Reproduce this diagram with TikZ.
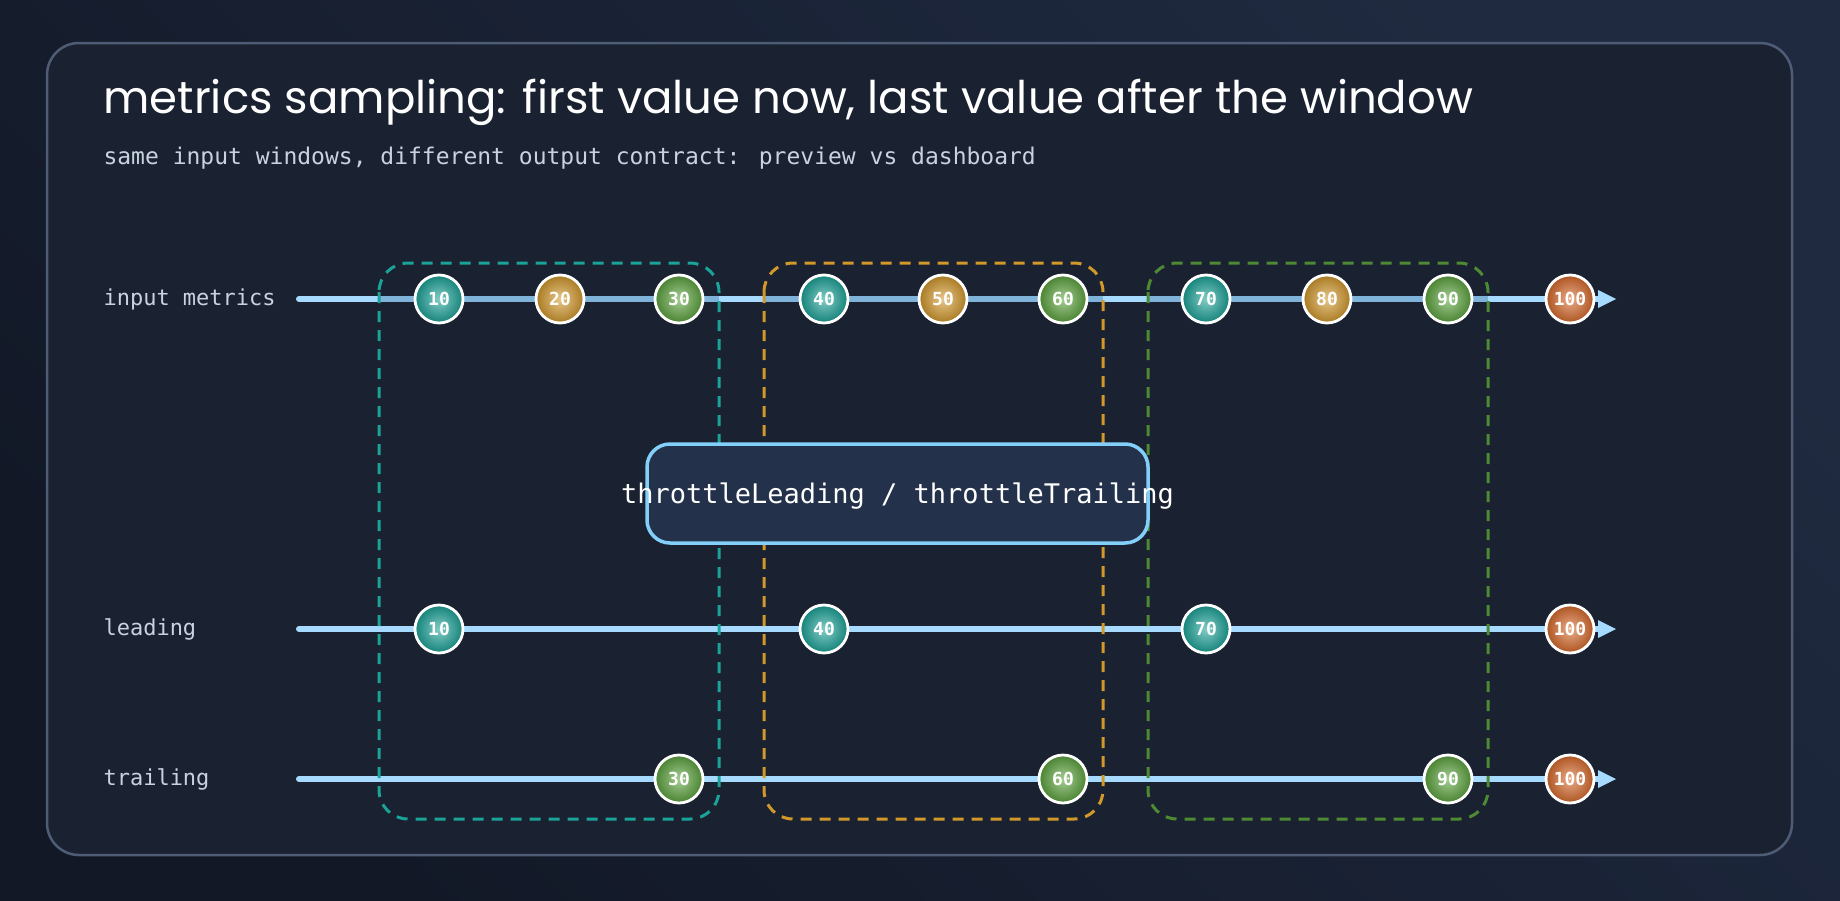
\documentclass[tikz,border=0pt]{standalone}
\usepackage{fontspec}
\setmainfont{Poppins}
\newfontfamily\mono{DejaVu Sans Mono}
\definecolor{bgA}{HTML}{121826}
\definecolor{bgB}{HTML}{1F2A40}
\definecolor{panel}{HTML}{1A2130}
\definecolor{panelB}{HTML}{4E5D75}
\definecolor{lineC}{HTML}{A6DBFF}
\definecolor{dimL}{HTML}{7FB3DA}
\definecolor{tealC}{HTML}{1AA398}
\definecolor{goldC}{HTML}{D3982A}
\definecolor{greenC}{HTML}{5BA33C}
\definecolor{orangeC}{HTML}{D8692A}
\definecolor{txt}{HTML}{C9D3E0}
\definecolor{boxF}{HTML}{23314A}
\definecolor{boxB}{HTML}{82CFFA}
\begin{document}
\begin{tikzpicture}[x=1pt,y=-1pt,
  lane/.style={line width=6pt,line cap=round,color=lineC},
  marble/.style={circle,minimum size=48pt,inner sep=0pt,draw=white,line width=2.8pt,font=\mono\bfseries\fontsize{18}{18}\selectfont,text=white},
  mc/.style={marble,shading=radial,inner color=#1!55!white,outer color=#1!80!black},
  m1/.style={mc=tealC},
  m2/.style={mc=goldC},
  m3/.style={mc=greenC},
  m4/.style={mc=orangeC},
  win/.style={draw,line width=3pt,rounded corners=29pt,dash pattern=on 11pt off 8pt},
  lab/.style={anchor=west,font=\mono\fontsize{22}{22}\selectfont,text=txt}]
\shade[left color=bgA,right color=bgB,shading angle=135] (0,0) rectangle (1840,900);
\useasboundingbox (0,0) rectangle (1840,900);
\fill[panel,draw=panelB,line width=2.5pt,rounded corners=32pt] (47,43) rectangle (1792,855);
\node[anchor=west,font=\fontsize{45}{45}\selectfont,text=white] (title) at (100,102) {metrics sampling: first value now, last value after the window};
\node[anchor=west,font=\mono\fontsize{23}{23}\selectfont,text=txt] (sub) at (100,158) {same input windows, different output contract: preview vs dashboard};
\node[lab] (l1) at (100,299) {input metrics};
\node[lab] (l2) at (100,629) {leading};
\node[lab] (l3) at (100,779) {trailing};
\foreach \n/\y in {a/299,b/629,c/779}{
  \coordinate (\n s) at (299,\y);
  \coordinate (\n e) at (1606,\y);
  \draw[lane] (\n s) -- (\n e);
  \fill[lineC] (1598,\y-9) -- (1616,\y) -- (1598,\y+9) -- cycle;
}
\foreach \xa/\xb in {379/719,764/1103,1148/1488}
  \draw[line width=6pt,dimL] (\xa,299) -- (\xb,299);
\draw[win,tealC] (379,263) rectangle (719,819);
\draw[win,goldC] (764,263) rectangle (1103,819);
\draw[win,greenC!85!black] (1148,263) rectangle (1488,819);
\node[m1] (i10) at (439,299) {10};
\node[m2] (i20) at (560,299) {20};
\node[m3] (i30) at (679,299) {30};
\node[m1] (i40) at (824,299) {40};
\node[m2] (i50) at (943,299) {50};
\node[m3] (i60) at (1063,299) {60};
\node[m1] (i70) at (1206,299) {70};
\node[m2] (i80) at (1327,299) {80};
\node[m3] (i90) at (1448,299) {90};
\node[m4] (i100) at (1570,299) {100};
\node[m1] (a10) at (439,629) {10};
\node[m1] (a40) at (824,629) {40};
\node[m1] (a70) at (1206,629) {70};
\node[m4] (a100) at (1570,629) {100};
\node[m3] (t30) at (679,779) {30};
\node[m3] (t60) at (1063,779) {60};
\node[m3] (t90) at (1448,779) {90};
\node[m4] (t100) at (1570,779) {100};
\filldraw[draw=boxB,fill=boxF,line width=3.5pt,rounded corners=23pt] (647,444) rectangle (1148,543);
\node[font=\mono\fontsize{27}{27}\selectfont,text=white] (op) at (897.5,496) {throttleLeading / throttleTrailing};
\end{tikzpicture}
\end{document}
